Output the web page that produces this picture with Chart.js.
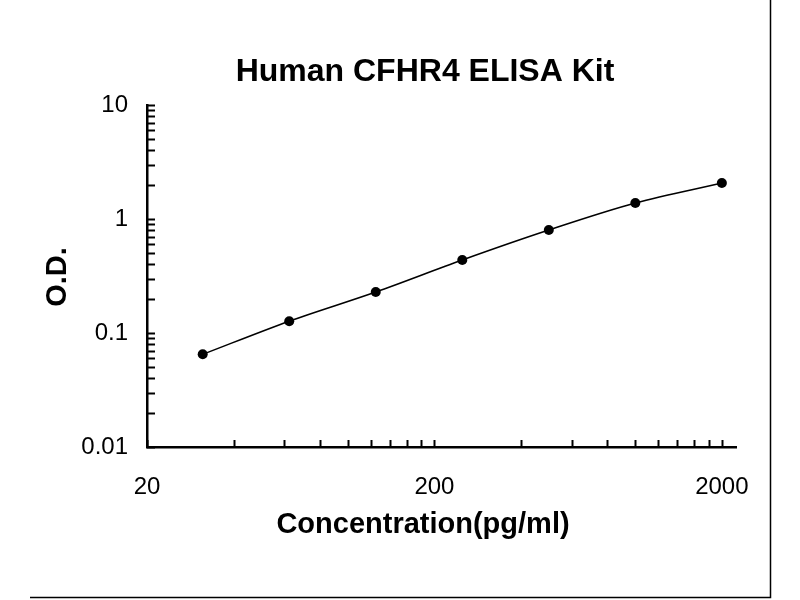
<!DOCTYPE html>
<html>
<head>
<meta charset="utf-8">
<script src="https://cdn.jsdelivr.net/npm/chart.js@4"></script>
<style>
  html, body { margin: 0; padding: 0; background: #fff; }
  #wrap { width: 800px; height: 600px; position: relative; }
</style>
</head>
<body>
<div id="wrap"><canvas id="elisaChart" width="800" height="600"></canvas></div>
<script>
// --- data ---
const concentrations = [31.25, 62.5, 125, 250, 500, 1000, 2000];
const odValues = [0.065, 0.127, 0.229, 0.437, 0.80, 1.38, 2.07];

const xLabels = [20, 200, 2000];
const yLabels = [0.01, 0.1, 1, 10];

// minor tick marks: 20,40..200 then 200,400..2000 (as in the original plot)
const xTicks = [20, 40, 60, 80, 100, 120, 140, 160, 180, 200,
                400, 600, 800, 1000, 1200, 1400, 1600, 1800, 2000];
const yTicks = [0.01, 0.02, 0.03, 0.04, 0.05, 0.06, 0.07, 0.08, 0.09,
                0.1, 0.2, 0.3, 0.4, 0.5, 0.6, 0.7, 0.8, 0.9,
                1, 2, 3, 4, 5, 6, 7, 8, 9, 10];

const chartTitle = 'Human CFHR4 ELISA Kit';
const xTitle = 'Concentration(pg/ml)';
const yTitle = 'O.D.';

const points = concentrations.map((c, i) => ({ x: c, y: odValues[i] }));

// titles, inward tick marks and the outer frame of the image
const decorations = {
    id: 'decorations',
    afterDraw(chart) {
        const ctx = chart.ctx;
        const xs = chart.scales.x, ys = chart.scales.y;
        const area = chart.chartArea;
        ctx.save();
        ctx.strokeStyle = '#000';
        ctx.lineWidth = 2;
        xTicks.forEach(v => {
            const px = Math.round(xs.getPixelForValue(v)) + 0.5;
            ctx.beginPath();
            ctx.moveTo(px, area.bottom);
            ctx.lineTo(px, area.bottom - 7);
            ctx.stroke();
        });
        yTicks.forEach(v => {
            const py = Math.round(ys.getPixelForValue(v)) + 0.5;
            ctx.beginPath();
            ctx.moveTo(area.left, py);
            ctx.lineTo(area.left + 8, py);
            ctx.stroke();
        });
        // frame
        ctx.lineWidth = 1.5;
        ctx.beginPath();
        ctx.moveTo(30, 597.5);
        ctx.lineTo(770.5, 597.5);
        ctx.lineTo(770.5, 0);
        ctx.stroke();

        // titles
        ctx.fillStyle = '#000';
        ctx.textAlign = 'center';
        ctx.textBaseline = 'middle';
        ctx.font = 'bold 32px "Liberation Sans"';
        ctx.fillText(chartTitle, 425, 72);
        ctx.font = 'bold 29px "Liberation Sans"';
        ctx.fillText(xTitle, 423, 525);
        ctx.translate(58, 277);
        ctx.rotate(-Math.PI / 2);
        ctx.fillText(yTitle, 0, 0);
        ctx.restore();
    }
};

const ctx = document.getElementById('elisaChart').getContext('2d');
new Chart(ctx, {
    type: 'line',
    data: {
        datasets: [{
            data: points,
            borderColor: '#000',
            backgroundColor: '#000',
            borderWidth: 1.6,
            pointRadius: 5,
            pointBackgroundColor: '#000',
            pointBorderWidth: 0,
            cubicInterpolationMode: 'monotone',
            fill: false
        }]
    },
    plugins: [decorations],
    options: {
        responsive: false,
        animation: false,
        layout: { padding: { left: 0, right: 64, top: 105, bottom: 0 } },
        plugins: {
            legend: { display: false },
            tooltip: { enabled: false }
        },
        scales: {
            x: {
                type: 'logarithmic',
                min: 20,
                max: 2240,
                afterBuildTicks: scale => {
                    scale.ticks = xLabels.map(v => ({ value: v }));
                },
                afterFit: scale => { scale.height = 153; },
                ticks: {
                    autoSkip: false,
                    maxRotation: 0,
                    padding: 26,
                    color: '#000',
                    font: { family: 'Liberation Sans', size: 24 },
                    callback: v => String(v)
                },
                grid: { display: false, drawTicks: false },
                border: { display: true, color: '#000', width: 2.5 }
            },
            y: {
                type: 'logarithmic',
                min: 0.01,
                max: 10,
                afterBuildTicks: scale => {
                    scale.ticks = yLabels.map(v => ({ value: v }));
                },
                afterFit: scale => { scale.width = 147; },
                ticks: {
                    autoSkip: false,
                    padding: 19,
                    color: '#000',
                    font: { family: 'Liberation Sans', size: 24 },
                    callback: v => String(v)
                },
                grid: { display: false, drawTicks: false },
                border: { display: true, color: '#000', width: 2.5 }
            }
        }
    }
});
</script>
</body>
</html>
